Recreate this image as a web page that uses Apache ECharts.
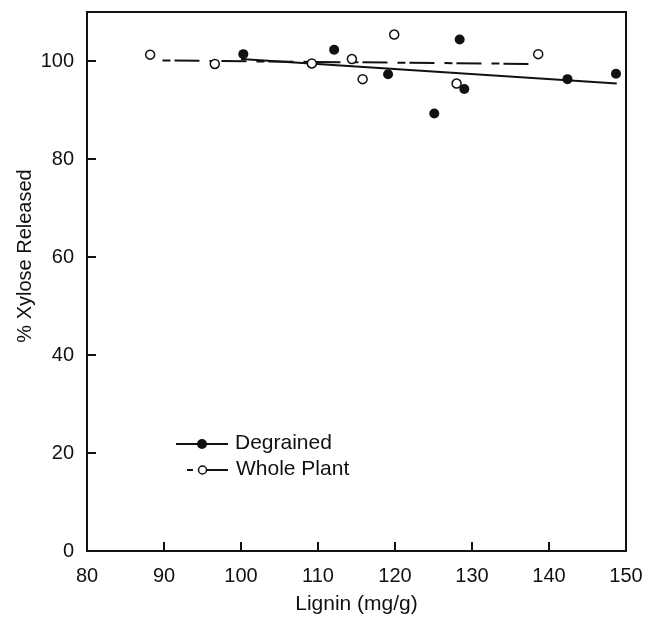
<!DOCTYPE html>
<html>
<head>
<meta charset="utf-8">
<script src="https://cdn.jsdelivr.net/npm/echarts@6/dist/echarts.min.js"></script>
<style>html,body{margin:0;padding:0;background:#fff;}#c{width:647px;height:621px;}</style>
</head>
<body>
<div id="c"></div>
<script>
// Data
var degrainedX = [100.3, 112.1, 119.1, 125.1, 128.4, 129.0, 142.4, 148.7];
var degrainedY = [101.4, 102.3, 97.3, 89.3, 104.4, 94.3, 96.3, 97.4];
var wholeX = [88.2, 96.6, 109.2, 114.4, 115.8, 119.9, 128.0, 138.6];
var wholeY = [101.3, 99.4, 99.5, 100.4, 96.3, 105.4, 95.4, 101.4];
var degrainedFitX = [100.0, 148.8];
var degrainedFitY = [100.4, 95.4];
var wholeFitX = [89.8, 138.0];
var wholeFitY = [100.1, 99.4];
var xTicks = [80, 90, 100, 110, 120, 130, 140, 150];
var yTicks = [0, 20, 40, 60, 80, 100];

function pairs(xs, ys) { return xs.map(function (x, i) { return [x, ys[i]]; }); }

var FONT = 'Liberation Sans, Arial, Helvetica, sans-serif';
var chart = echarts.init(document.getElementById('c'));
chart.setOption({
  animation: false,
  backgroundColor: '#fff',
  grid: { left: 87, right: 21, top: 12, bottom: 70, show: true, borderColor: '#111', borderWidth: 2 },
  xAxis: {
    type: 'value', min: 80, max: 150, interval: 10,
    name: 'Lignin (mg/g)', nameLocation: 'middle', nameGap: 43,
    nameTextStyle: { fontFamily: FONT, fontSize: 21, color: '#111' },
    axisLine: { show: true, lineStyle: { color: '#111', width: 2 } },
    axisTick: { show: true, inside: true, length: 9, lineStyle: { color: '#111', width: 2 } },
    axisLabel: { fontFamily: FONT, fontSize: 20, color: '#111', margin: 15,
      formatter: function (v) { return xTicks.indexOf(v) >= 0 ? String(v) : ''; } },
    splitLine: { show: false }
  },
  yAxis: {
    type: 'value', min: 0, max: 110, interval: 20,
    axisLine: { show: true, lineStyle: { color: '#111', width: 2 } },
    axisTick: { show: true, inside: true, length: 9, lineStyle: { color: '#111', width: 2 } },
    axisLabel: { fontFamily: FONT, fontSize: 20, color: '#111', margin: 13, showMaxLabel: false,
      formatter: function (v) { return yTicks.indexOf(v) >= 0 ? String(v) : ''; } },
    splitLine: { show: false }
  },
  graphic: [
    { type: 'text', x: 25, y: 256, rotation: Math.PI / 2,
      style: { text: '% Xylose Released', font: '20px ' + FONT, fill: '#111', textAlign: 'center', textVerticalAlign: 'middle' } },
    // legend
    { type: 'line', shape: { x1: 176, y1: 444, x2: 228, y2: 444 }, style: { stroke: '#111', lineWidth: 2 } },
    { type: 'circle', shape: { cx: 202, cy: 444, r: 5 }, style: { fill: '#111' } },
    { type: 'text', x: 235, y: 443, style: { text: 'Degrained', font: '21px ' + FONT, fill: '#111', textVerticalAlign: 'middle' } },
    { type: 'line', shape: { x1: 187, y1: 470, x2: 193, y2: 470 }, style: { stroke: '#111', lineWidth: 2 } },
    { type: 'line', shape: { x1: 207, y1: 470, x2: 228, y2: 470 }, style: { stroke: '#111', lineWidth: 2 } },
    { type: 'circle', shape: { cx: 202.5, cy: 470, r: 4 }, style: { fill: '#fff', stroke: '#111', lineWidth: 1.5 } },
    { type: 'text', x: 236, y: 469, style: { text: 'Whole Plant', font: '21px ' + FONT, fill: '#111', textVerticalAlign: 'middle' } }
  ],
  series: [
    { type: 'line', name: 'Degrained fit', data: pairs(degrainedFitX, degrainedFitY), symbol: 'none', z: 2,
      lineStyle: { color: '#111', width: 2 } },
    { type: 'line', name: 'Whole Plant fit', data: pairs(wholeFitX, wholeFitY), symbol: 'none', z: 2,
      lineStyle: { color: '#111', width: 2, type: [8, 4, 25, 10] } },
    { type: 'scatter', name: 'Degrained', data: pairs(degrainedX, degrainedY), symbol: 'circle', symbolSize: 10, z: 5,
      itemStyle: { color: '#111', opacity: 1 } },
    { type: 'scatter', name: 'Whole Plant', data: pairs(wholeX, wholeY), symbol: 'circle', symbolSize: 9, z: 5,
      itemStyle: { color: '#fff', borderColor: '#111', borderWidth: 1.5, opacity: 1 } }
  ]
});
</script>
</body>
</html>
